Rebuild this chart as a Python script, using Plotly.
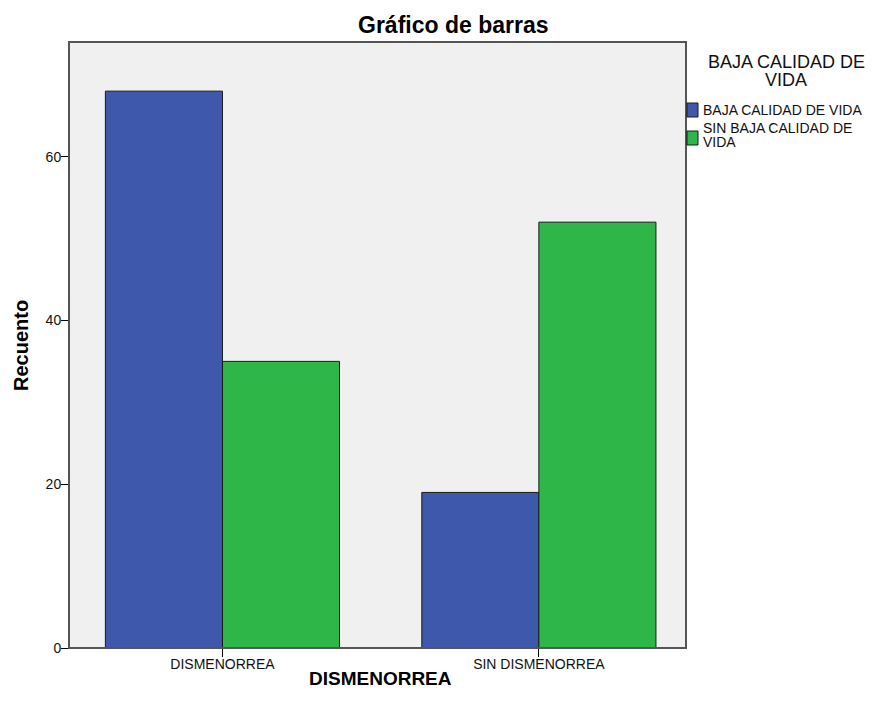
import plotly.graph_objects as go

# ---- data ----
categories = ["DISMENORREA", "SIN DISMENORREA"]
series_names = ["BAJA CALIDAD DE VIDA", "SIN BAJA CALIDAD DE VIDA"]
baja_calidad = [68, 19]
sin_baja_calidad = [35, 52]
y_tick_vals = [0, 20, 40, 60]

colors = ["#3E58AB", "#2EB748"]

W, H = 884, 711
L, R, T, B = 61, 678, 34, 640  # plot area in pixels


def px(x):
    return (x - L) / (R - L)


def py(y):
    return (B - y) / (B - T)


FONT = "Liberation Sans, Arial, sans-serif"

fig = go.Figure()
for name, vals, col in zip(series_names, [baja_calidad, sin_baja_calidad], colors):
    fig.add_trace(go.Bar(
        x=categories, y=vals, name=name,
        marker=dict(color=col, line=dict(color="#1a1a1a", width=1)),
        showlegend=False,
    ))

fig.update_layout(
    width=W, height=H,
    margin=dict(l=L, r=W - R, t=T, b=H - B, pad=0),
    paper_bgcolor="white",
    plot_bgcolor="#F0F0F0",
    barmode="group",
    bargap=0.26,
    bargroupgap=0,
    font=dict(family=FONT, color="#111111"),
    xaxis=dict(
        range=[-0.485, 1.465],
        showline=True, linecolor="#000000", linewidth=1,
        ticks="outside", ticklen=8, tickcolor="#000000", tickwidth=1,
        ticklabelstandoff=-5,
        tickfont=dict(size=14, family=FONT, color="#111111"),
        showgrid=False, zeroline=False,
    ),
    yaxis=dict(
        range=[0, 74],
        tickvals=y_tick_vals,
        showline=True, linecolor="#333333", linewidth=1,
        ticks="outside", ticklen=7, tickcolor="#000000", tickwidth=1,
        ticklabelstandoff=-3,
        tickfont=dict(size=14, family=FONT, color="#111111"),
        showgrid=False, zeroline=False,
    ),
)

# plot frame (top/right border)
fig.add_shape(type="rect", xref="paper", yref="paper", x0=0, x1=1, y0=0, y1=1,
              line=dict(color="#555555", width=2), layer="above")

ann = []
# chart title
ann.append(dict(text="<b>Gráfico de barras</b>", x=px(445), y=py(17), xref="paper", yref="paper",
                showarrow=False, xanchor="center", yanchor="middle",
                font=dict(size=23, family=FONT, color="#000000")))
# x axis title
ann.append(dict(text="<b>DISMENORREA</b>", x=px(373), y=py(670), xref="paper", yref="paper",
                showarrow=False, xanchor="center", yanchor="middle",
                font=dict(size=19, family=FONT, color="#000000")))
# y axis title
ann.append(dict(text="<b>Recuento</b>", x=px(13), y=py(337), xref="paper", yref="paper",
                showarrow=False, xanchor="center", yanchor="middle", textangle=-90,
                font=dict(size=20, family=FONT, color="#000000")))
# legend title
ann.append(dict(text="BAJA CALIDAD DE", x=px(778), y=py(54), xref="paper", yref="paper",
                showarrow=False, xanchor="center", yanchor="middle",
                font=dict(size=18, family=FONT, color="#111111")))
ann.append(dict(text="VIDA", x=px(778), y=py(72), xref="paper", yref="paper",
                showarrow=False, xanchor="center", yanchor="middle",
                font=dict(size=18, family=FONT, color="#111111")))
# legend items
legend_lines = [
    [("BAJA CALIDAD DE VIDA", 102)],
    [("SIN BAJA CALIDAD DE", 120), ("VIDA", 134)],
]
swatch_y = [(95, 109), (123, 137)]
for (lines, (y0, y1), col) in zip(legend_lines, swatch_y, colors):
    fig.add_shape(type="rect", xref="paper", yref="paper",
                  x0=px(679), x1=px(690), y0=py(y1), y1=py(y0),
                  fillcolor=col, line=dict(color="#1a1a1a", width=1), layer="above")
    for txt, yy in lines:
        ann.append(dict(text=txt, x=px(693), y=py(yy), xref="paper", yref="paper",
                        showarrow=False, xanchor="left", yanchor="middle",
                        font=dict(size=14, family=FONT, color="#111111")))

fig.update_layout(annotations=ann)
fig.write_html("out.html")
